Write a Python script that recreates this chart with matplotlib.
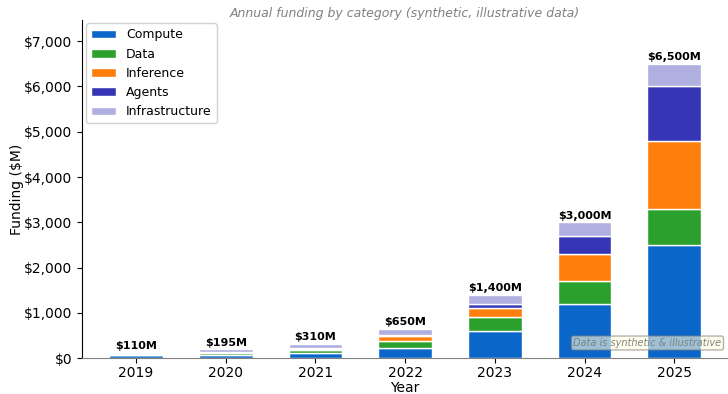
import matplotlib.pyplot as plt
import numpy as np
from matplotlib.ticker import FuncFormatter

years = ["2019", "2020", "2021", "2022", "2023", "2024", "2025"]
compute = [60, 70, 110, 230, 600, 1200, 2500]
data = [20, 40, 60, 140, 300, 500, 800]
inference = [10, 25, 40, 110, 200, 600, 1500]
agents = [5, 10, 20, 40, 100, 400, 1200]
infrastructure = [15, 50, 80, 130, 200, 300, 500]

series = [
    ("Compute", compute, "#0a66c8"),
    ("Data", data, "#2ca02c"),
    ("Inference", inference, "#ff7f0e"),
    ("Agents", agents, "#3535b5"),
    ("Infrastructure", infrastructure, "#afafe0"),
]

fig = plt.figure(figsize=(7.28, 3.94), dpi=100)
ax = fig.add_axes([0.113, 0.091, 0.887, 0.859])

x = np.arange(len(years))
bottom = np.zeros(len(years))
for name, vals, color in series:
    ax.bar(x, vals, 0.6, bottom=bottom, color=color, label=name,
           edgecolor="white", linewidth=1)
    bottom += np.array(vals)

# total labels on top of stacks
for xi, tot in zip(x, bottom):
    ax.text(xi, tot + 40, f"${tot:,.0f}M", ha="center", va="bottom",
            fontsize=8, fontweight="bold")

ax.set_xticks(x)
ax.set_xticklabels(years)
ax.tick_params(axis="x", pad=2)
ax.set_xlim(-0.6, 6.6)
ax.set_ylim(0, 7475)
ax.yaxis.set_major_formatter(FuncFormatter(lambda v, p: f"${v:,.0f}"))
ax.set_xlabel("Year", fontsize=10, labelpad=1)
ax.set_ylabel("Funding ($M)", fontsize=10, labelpad=0)
ax.set_title("Annual funding by category (synthetic, illustrative data)",
             fontsize=9, style="italic", color="gray", pad=2)
ax.spines["top"].set_visible(False)
ax.spines["right"].set_visible(False)
ax.spines["bottom"].set_color("gray")
ax.legend(loc="upper left", fontsize=9, framealpha=0.9, borderaxespad=0.3)

ax.text(0.99, 0.03, "Data is synthetic & illustrative", transform=ax.transAxes,
        ha="right", va="bottom", fontsize=7, style="italic", color="gray",
        bbox=dict(boxstyle="round,pad=0.2", facecolor="lightyellow",
                  edgecolor="gray", alpha=0.6))

fig.savefig("out.png", dpi=100)
